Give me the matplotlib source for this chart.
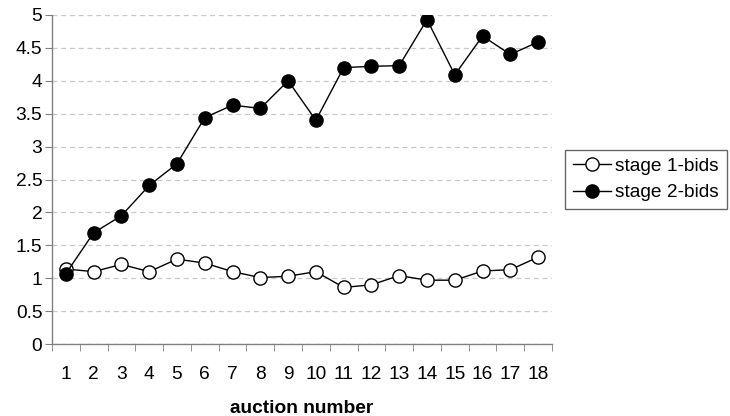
import numpy as np
import matplotlib.pyplot as plt
from matplotlib.ticker import MultipleLocator, FixedLocator

plt.rcParams['font.family'] = ['Liberation Sans', 'DejaVu Sans']

auctions = np.arange(1, 19)
stage1 = [1.14, 1.10, 1.21, 1.10, 1.29, 1.23, 1.10, 1.01, 1.03, 1.10,
          0.86, 0.90, 1.04, 0.97, 0.97, 1.11, 1.13, 1.32]
stage2 = [1.07, 1.69, 1.95, 2.41, 2.74, 3.44, 3.63, 3.58, 4.00, 3.40,
          4.20, 4.22, 4.23, 4.93, 4.09, 4.68, 4.40, 4.59]

fs = 13.8

fig = plt.figure(figsize=(7.3, 4.16), dpi=100)
ax = fig.add_axes([0.0712, 0.173, 0.685, 0.791])

ax.plot(auctions, stage1, color='black', lw=1, marker='o', ms=9.5,
        mfc='white', mec='black', mew=1, label='stage 1-bids', zorder=3)
ax.plot(auctions, stage2, color='black', lw=1, marker='o', ms=9.5,
        mfc='black', mec='black', mew=1, label='stage 2-bids', zorder=3)

ax.set_xlim(0.5, 18.5)
ax.set_ylim(0, 5)
ax.yaxis.set_major_locator(MultipleLocator(0.5))
ax.yaxis.set_major_formatter(plt.FuncFormatter(lambda v, p: f'{v:g}'))
ax.set_xticks(auctions)
ax.xaxis.set_minor_locator(FixedLocator(np.arange(0.5, 19, 1)))
ax.tick_params(axis='x', which='major', length=0, pad=16, labelsize=fs)
ax.tick_params(axis='x', which='minor', length=5, color='#808080', direction='out')
ax.tick_params(axis='y', length=5, color='#808080', labelsize=fs, pad=2)

ax.grid(axis='y', color='#c8c8c8', linestyle=(0, (4, 3)), lw=0.9)
ax.set_axisbelow(True)
for side in ['top', 'right']:
    ax.spines[side].set_visible(False)
for side in ['left', 'bottom']:
    ax.spines[side].set_color('#808080')
    ax.spines[side].set_linewidth(1)

ax.set_xlabel('auction number', fontsize=fs, fontweight='bold', labelpad=12)

leg = ax.legend(loc='center left', bbox_to_anchor=(1.0, 0.5), fontsize=fs,
                frameon=True, fancybox=False, edgecolor='#404040',
                handlelength=2.0, handletextpad=0.2, borderpad=0.4,
                labelspacing=0.45, borderaxespad=0.7)
leg.get_frame().set_linewidth(1)

fig.savefig('out.png', dpi=100)
